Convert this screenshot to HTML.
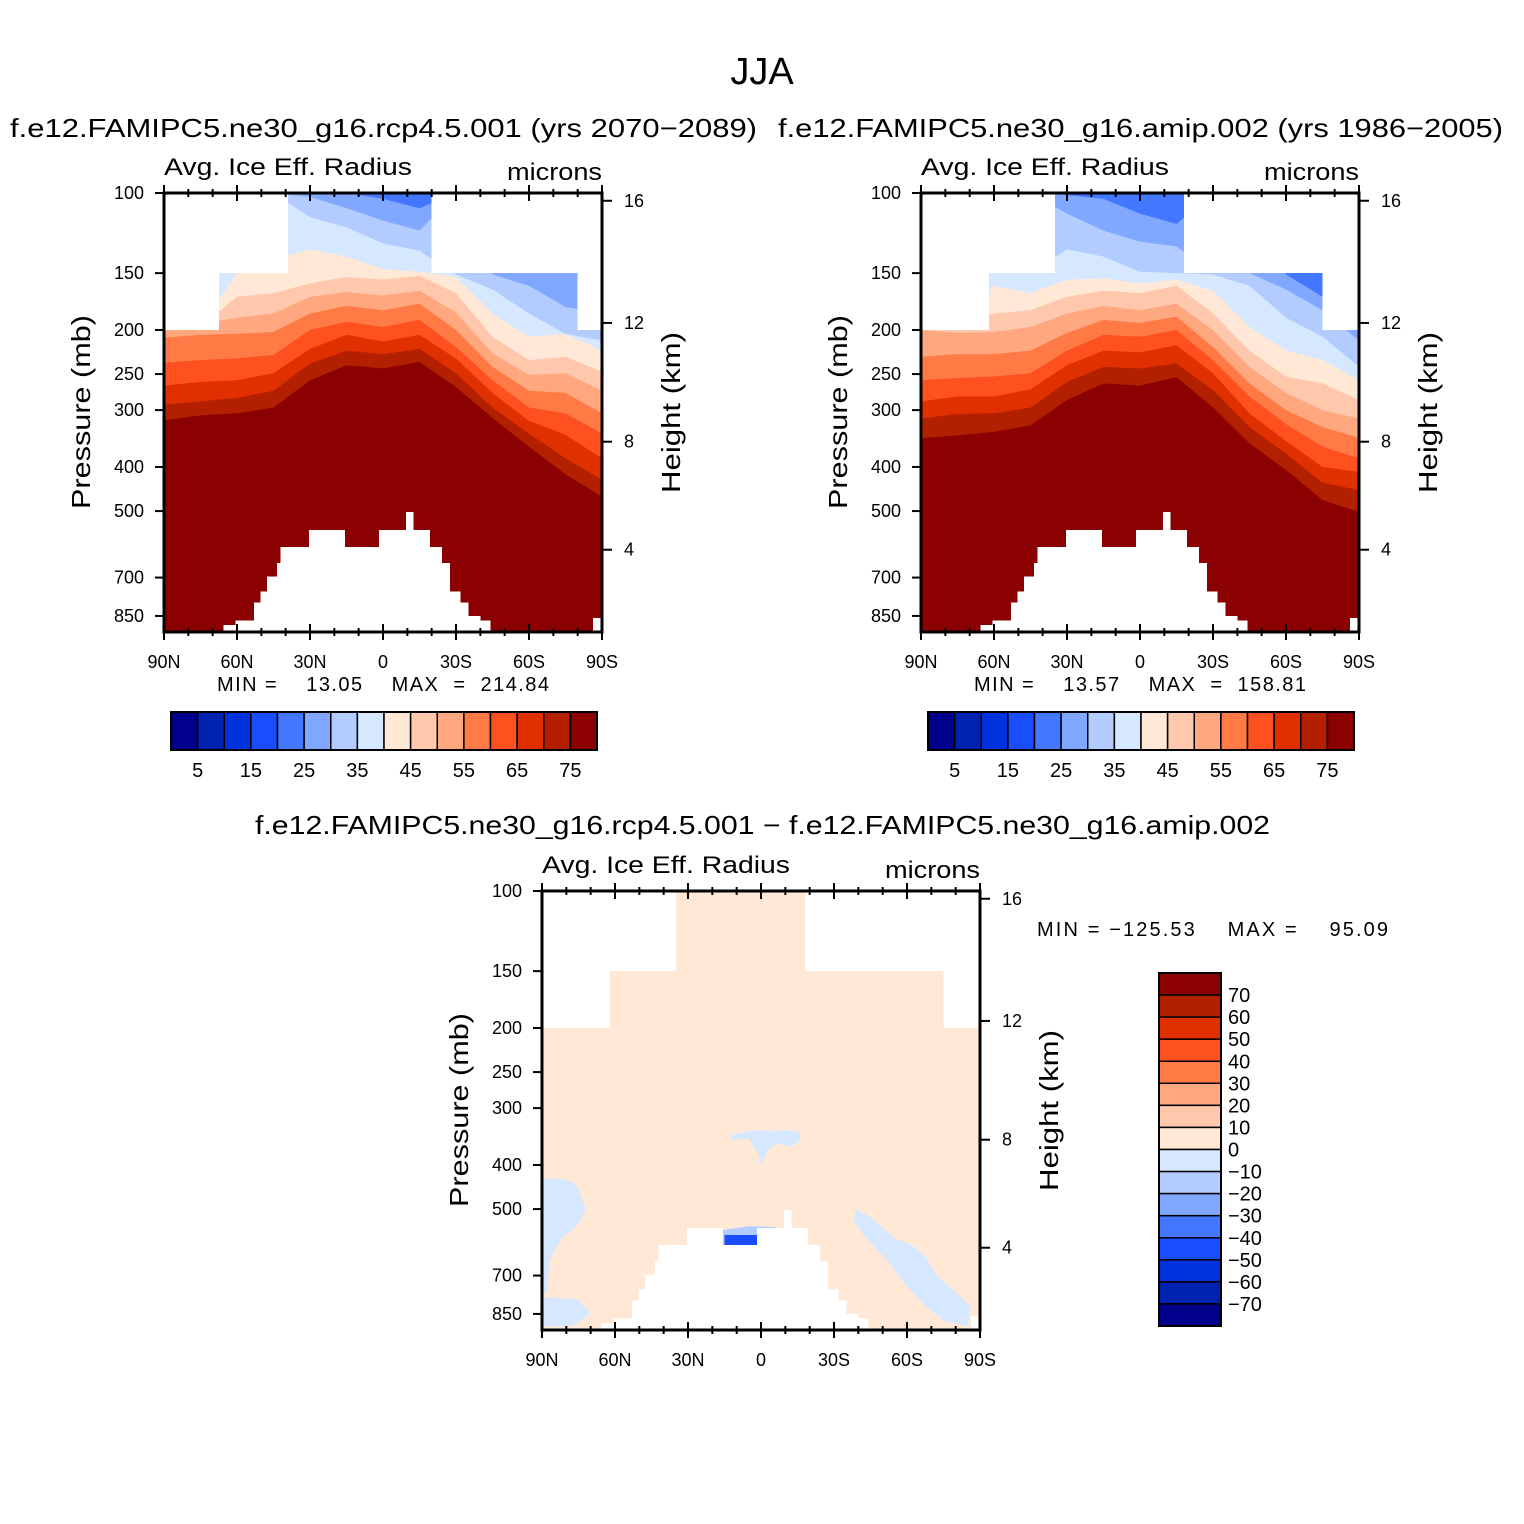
<!DOCTYPE html>
<html><head><meta charset="utf-8"><style>
html,body{margin:0;padding:0;background:#fff;}
svg{display:block;font-family:"Liberation Sans",sans-serif;}
text{white-space:pre;}
</style></head><body>
<svg id="fig" width="1524" height="1524" viewBox="0 0 1524 1524" xmlns="http://www.w3.org/2000/svg">
<rect width="1524" height="1524" fill="#fff"/>
<text x="762" y="84" font-size="38" text-anchor="middle">JJA</text>
<text x="10" y="137" font-size="26" textLength="747" lengthAdjust="spacingAndGlyphs">f.e12.FAMIPC5.ne30_g16.rcp4.5.001 (yrs 2070−2089)</text>
<text x="778" y="137" font-size="26" textLength="725" lengthAdjust="spacingAndGlyphs">f.e12.FAMIPC5.ne30_g16.amip.002 (yrs 1986−2005)</text>
<text x="255" y="834" font-size="26" textLength="1015" lengthAdjust="spacingAndGlyphs">f.e12.FAMIPC5.ne30_g16.rcp4.5.001 − f.e12.FAMIPC5.ne30_g16.amip.002</text>
<g id="root"></g>
</svg>
<script>
// ---- data ----
const lats = [90,75,60,45,30,15,0,-15,-30,-45,-60,-75,-90];
const levels = [75,70,65,60,55,50,45,40,35,30,25];
const absColors = ["#00008b","#0022b0","#0033dd","#1a4dff","#4477ff","#80a8ff","#b3ccff","#d6e8ff","#ffe8d6","#ffc8ad","#ffa880","#ff7a45","#ff5020","#e03000","#b32000","#8b0000"];
const absLabels = ["5","15","25","35","45","55","65","75"];
// contour boundary pressures (hPa) per level, panel 1 (rcp4.5)
const p1b75 = [316,308,305,296,258,239,243,235,267,312,361,415,465];
const p1b70 = [292,287,282,272,237,222,226,220,249,296,338,383,427];
const p1b65 = [265,260,258,249,220,205,212,205,231,275,317,340,383];
const p1b60 = [236,233,231,227,200,192,197,190,218,258,296,305,338];
const p1b55 = [208,205,204,202,184,177,181,175,200,241,272,275,305];
const p1b50 = [200,194,188,184,169,165,168,164,183,225,251,249,272];
const p1b45 = [200,197,169,166,158,153,155,152,166,207,233,229,247];
const p1b40 = [200,197,150,140,133,138,147,149,153,184,207,204,222];
const p1b35 = [100,100,100,100,113,119,129,134,151,163,184,204,211];
const p1b30 = [100,100,100,100,102,108,115,121,100,151,160,178,184];
const p1b25 = [100,100,100,100,99,100,103,108,100,100,100,100,100];
// panel 2 (amip)
const p2b75 = [346,341,335,324,285,262,265,254,296,355,406,473,502];
const p2b70 = [313,306,305,296,260,241,243,237,271,327,374,433,450];
const p2b65 = [287,280,280,270,239,222,224,216,249,305,351,400,410];
const p2b60 = [258,255,253,249,222,205,207,200,233,280,322,361,383];
const p2b55 = [229,226,226,222,203,190,193,187,218,262,300,327,345];
const p2b50 = [200,203,202,197,184,177,181,175,200,241,275,300,313];
const p2b45 = [200,197,184,181,169,164,166,160,184,222,253,262,285];
const p2b40 = [200,197,160,166,155,154,158,155,164,197,222,233,258];
const p2b35 = [100,100,140,150,133,138,149,150,151,160,188,207,241];
const p2b30 = [100,100,100,100,111,121,128,131,150,150,163,181,211];
const p2b25 = [100,100,100,100,101,103,111,117,100,100,151,169,100];
// missing-data regions
const p1Top = [39,-20]; const p1Mid = [67.5,-80];
const p2Top = [35,-18]; const p2Mid = [62,-75];
// terrain: segments [latN, latS, top pressure of missing]
const terrain = [[65.3,60.5,891],[60.5,52.9,870],[52.9,50.2,795],[50.2,47.4,752],[47.4,43.3,697],[43.3,41.9,651],[41.9,30.2,599],[30.2,15.8,550],[15.8,1.4,599],[1.4,-9.6,550],[-9.6,-12.3,502],[-12.3,-19.2,550],[-19.2,-24,599],[-24,-27.4,651],[-27.4,-31.6,752],[-31.6,-35,795],[-35,-39.8,850],[-39.8,-43.9,870],[-86.5,-90,860]];
// difference panel
const diffColors = ["#8b0000","#b32000","#e03000","#ff5020","#ff7a45","#ffa880","#ffc8ad","#ffe8d6","#d6e8ff","#b3ccff","#80a8ff","#4477ff","#1a4dff","#0033dd","#0022b0","#00008b"];
const diffLabels = ["70","60","50","40","30","20","10","0","−10","−20","−30","−40","−50","−60","−70"];
const patchCenterLat = [13,8,2,-5,-10,-16,-16,-12,-7,-3,0,1,5,12];
const patchCenterP = [345,340,335,338,335,340,355,365,358,370,400,380,350,352];
const patchLeftLat = [90,82,76,72,75,82,87,88,90];
const patchLeftP = [430,428,440,500,540,580,650,760,770];
const patchBLLat = [90,75,70,78,90];
const patchBLP = [780,790,850,905,905];
const patchRightLat = [-39,-45,-55,-62,-68,-72,-80,-86,-85,-75,-68,-60,-52,-42,-38];
const patchRightP = [500,520,580,600,640,700,760,820,905,880,820,740,650,570,530];
const patchTerrLat = [29,15,5,-5,-12,-15,-15,29];
const patchTerrP = [585,555,545,548,555,570,600,600];
const pLabels = [100,150,200,250,300,400,500,700,850];
const hLabels = [16,12,8,4];
const hPress = [104,193,352,608];
const xLabels = ["90N","60N","30N","0","30S","60S","90S"];
const xLabelLats = [90,60,30,0,-30,-60,-90];

// ---- drawing ----
const NS = "http://www.w3.org/2000/svg";
const root = document.getElementById('root');
const W = 438, H = 439, PTOP = 100, PBOT = 922;
function mk(tag, attrs, parent){ const e=document.createElementNS(NS,tag); for(const k in attrs) e.setAttribute(k,attrs[k]); (parent||root).appendChild(e); return e; }
function xs(ox,lat){ return ox + (90-lat)*W/180; }
function ys(oy,p){ return oy + Math.log(p/PTOP)/Math.log(PBOT/PTOP)*H; }

function bandPoly(g,ox,oy,arr,color,name){
  let pts = [[xs(ox,90),oy]];
  for(let i=0;i<lats.length;i++) pts.push([xs(ox,lats[i]), ys(oy,arr[i])]);
  pts.push([xs(ox,-90),oy]);
  const e = mk('polygon',{points:pts.map(p=>p.join(',')).join(' '),fill:color},g);
  
  
}
function patch(g,ox,oy,la,pa,color,name){
  const pts = la.map((l,i)=>xs(ox,l)+','+ys(oy,pa[i])).join(' ');
  const e = mk('polygon',{points:pts,fill:color},g);
  
  
}
function masks(g,ox,oy,top,mid){
  const rects = [
    [90,top[0],100,150],[top[1],-90,100,150],
    [90,mid[0],150,200],[mid[1],-90,150,200]
  ];
  rects.forEach(r=>{
    const e = mk('rect',{x:xs(ox,r[0]),y:ys(oy,r[2]),width:xs(ox,r[1])-xs(ox,r[0]),height:ys(oy,r[3])-ys(oy,r[2]),fill:'#fff','shape-rendering':'crispEdges'},g);
    
    
  });
  terrain.forEach(t=>{
    const e = mk('rect',{x:xs(ox,t[0])-0.5,y:ys(oy,t[2]),width:xs(ox,t[1])-xs(ox,t[0])+1,height:oy+H-ys(oy,t[2]),fill:'#fff','shape-rendering':'crispEdges'},g);
    
    
  });
}
function axes(g,ox,oy){
  for(let lat=90;lat>=-90;lat-=10){
    const major = lat%30===0, x=xs(ox,lat), L = major?8:4;
    mk('line',{x1:x,y1:oy-L,x2:x,y2:oy+L,stroke:'#000','stroke-width':2},g);
    mk('line',{x1:x,y1:oy+H-L,x2:x,y2:oy+H+L,stroke:'#000','stroke-width':2},g);
  }
  xLabels.forEach((t,i)=>{
    const e = mk('text',{x:xs(ox,xLabelLats[i]),y:oy+H+36,'font-size':18,'text-anchor':'middle'},g);
    e.textContent=t;
    
    
  });
  pLabels.forEach(p=>{
    const y=ys(oy,p);
    mk('line',{x1:ox-9,y1:y,x2:ox,y2:y,stroke:'#000','stroke-width':2},g);
    const e = mk('text',{x:ox-20,y:y+6,'font-size':18,'text-anchor':'end'},g);
    e.textContent=p;
    
    
  });
  hLabels.forEach((h,i)=>{
    const y=ys(oy,hPress[i]);
    mk('line',{x1:ox+W,y1:y,x2:ox+W+10,y2:y,stroke:'#000','stroke-width':2},g);
    const e = mk('text',{x:ox+W+22,y:y+6,'font-size':18},g);
    e.textContent=h;
    
    
  });
  const fr = mk('rect',{x:ox,y:oy,width:W,height:H,fill:'none',stroke:'#000','stroke-width':3},g);
  
  
  const t1 = mk('text',{x:ox,y:oy-18,'font-size':24,textLength:248,lengthAdjust:'spacingAndGlyphs'},g);
  t1.textContent='Avg. Ice Eff. Radius';
  
  
  const t2 = mk('text',{x:ox+W-95,y:oy-13,'font-size':24,textLength:95,lengthAdjust:'spacingAndGlyphs'},g);
  t2.textContent='microns';
  
  
  const cy=oy+219;
  const t3 = mk('text',{x:-97,y:0,'font-size':26,textLength:194,lengthAdjust:'spacingAndGlyphs',transform:`translate(${ox-74},${cy}) rotate(-90)`},g);
  t3.textContent='Pressure (mb)';
  
  
  const t4 = mk('text',{x:-80,y:0,'font-size':26,textLength:161,lengthAdjust:'spacingAndGlyphs',transform:`translate(${ox+W+78},${oy+220}) rotate(-90)`},g);
  t4.textContent='Height (km)';
  
  
}
function hColorbar(g,x0,y0,name){
  const bw=426/16;
  absColors.forEach((c,i)=>{
    const e = mk('rect',{x:x0+i*bw,y:y0,width:bw,height:38,fill:c,stroke:'#000','stroke-width':1.5},g);
    
    
  });
  mk('rect',{x:x0,y:y0,width:426,height:38,fill:'none',stroke:'#000','stroke-width':2},g);
  absLabels.forEach((t,i)=>{
    const e = mk('text',{x:x0+(2*i+1)*bw,y:y0+65,'font-size':20,'text-anchor':'middle'},g);
    e.textContent=t;
    
    
  });
}
function absPanel(ox,oy,bounds,top,mid,minmax,name){
  const g = mk('g',{});
  
  
  const clip = mk('clipPath',{id:name+'-clip'},g);
  mk('rect',{x:ox,y:oy,width:W,height:H},clip);
  const cg = mk('g',{'clip-path':`url(#${name}-clip)`},g);
  mk('rect',{x:ox,y:oy,width:W,height:H,fill:'#8b0000'},cg);
  const bandCols = ["#b32000","#e03000","#ff5020","#ff7a45","#ffa880","#ffc8ad","#ffe8d6","#d6e8ff","#b3ccff","#80a8ff","#4477ff"];
  bounds.forEach((b,i)=>bandPoly(cg,ox,oy,b,bandCols[i],'contour-band-'+levels[i]));
  masks(cg,ox,oy,top,mid);
  axes(g,ox,oy);
  const t = mk('text',{x:ox+53,y:oy+498,'font-size':20,textLength:332,lengthAdjust:'spacing'},g);
  t.textContent=minmax;
  
  
  hColorbar(g,ox+7,oy+519,name+'-colorbar');
}
absPanel(164,193,[p1b75,p1b70,p1b65,p1b60,p1b55,p1b50,p1b45,p1b40,p1b35,p1b30,p1b25],p1Top,p1Mid,"MIN =    13.05    MAX  =  214.84","panel-rcp45");
absPanel(921,193,[p2b75,p2b70,p2b65,p2b60,p2b55,p2b50,p2b45,p2b40,p2b35,p2b30,p2b25],p2Top,p2Mid,"MIN =    13.57    MAX  =  158.81","panel-amip");

// difference panel
(function(){
  const ox=542, oy=891;
  const g = mk('g',{});
  
  
  const clip = mk('clipPath',{id:'diff-clip'},g);
  mk('rect',{x:ox,y:oy,width:W,height:H},clip);
  const cg = mk('g',{'clip-path':'url(#diff-clip)'},g);
  mk('rect',{x:ox,y:oy,width:W,height:H,fill:'#ffe8d6'},cg);
  patch(cg,ox,oy,patchCenterLat,patchCenterP,'#d6e8ff','neg-patch-tropics');
  patch(cg,ox,oy,patchLeftLat,patchLeftP,'#d6e8ff','neg-patch-arctic');
  patch(cg,ox,oy,patchBLLat,patchBLP,'#d6e8ff','neg-patch-arctic-low');
  patch(cg,ox,oy,patchRightLat,patchRightP,'#d6e8ff','neg-patch-southern');
  patch(cg,ox,oy,patchTerrLat,patchTerrP,'#b3ccff','neg-patch-terrain');
  const strong = mk('rect',{x:xs(ox,15),y:ys(oy,570),width:xs(ox,1)-xs(ox,15),height:ys(oy,600)-ys(oy,570),fill:'#1a4dff'},cg);
  
  
  const red = mk('rect',{x:xs(ox,28),y:ys(oy,560),width:xs(ox,26)-xs(ox,28),height:ys(oy,600)-ys(oy,560),fill:'#e03000'},cg);
  
  
  masks(cg,ox,oy,p2Top,p2Mid);
  axes(g,ox,oy);
  const t = mk('text',{x:1037,y:936,'font-size':20,textLength:351,lengthAdjust:'spacing'},g);
  t.textContent="MIN = −125.53    MAX =    95.09";
  
  
  const bh = 353/16;
  diffColors.forEach((c,i)=>{
    const e = mk('rect',{x:1159,y:973+i*bh,width:62,height:bh,fill:c,stroke:'#000','stroke-width':1.5},g);
    
    
  });
  mk('rect',{x:1159,y:973,width:62,height:353,fill:'none',stroke:'#000','stroke-width':2},g);
  diffLabels.forEach((s,i)=>{
    const e = mk('text',{x:1228,y:973+(i+1)*bh+7,'font-size':20},g);
    e.textContent=s;
    
    
  });
})();
</script>
</body></html>
